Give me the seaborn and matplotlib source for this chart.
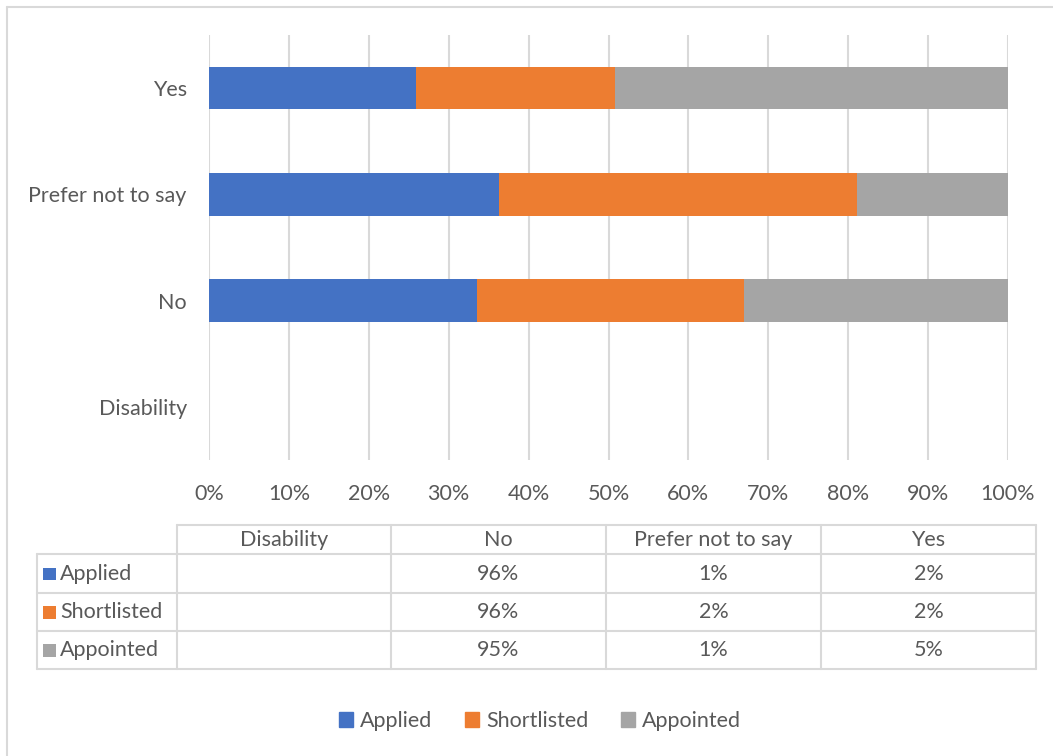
"""100% stacked bar: disability declaration vs. recruitment stage, with data table."""
import matplotlib.pyplot as plt
import numpy as np
import pandas as pd
import seaborn as sns
from matplotlib.lines import Line2D
from matplotlib.patches import Rectangle

# categories, top to bottom as in the chart
categories = ["Yes", "Prefer not to say", "No", "Disability"]
stages = ["Applied", "Shortlisted", "Appointed"]

applied = [2.4, 1.23, 96.2, np.nan]
shortlisted = [2.3, 1.52, 96.2, np.nan]
appointed = [4.55, 0.64, 94.8, np.nan]

# table column order (Excel lists categories bottom-up)
table_cols = ["Disability", "No", "Prefer not to say", "Yes"]

colors = {"Applied": "#4472C4", "Shortlisted": "#ED7D31", "Appointed": "#A5A5A5"}
TXT = "#595959"
GRID = "#D9D9D9"
FS = 15.5

df = pd.DataFrame({"category": categories, "Applied": applied,
                   "Shortlisted": shortlisted, "Appointed": appointed})
total = df[stages].sum(axis=1, min_count=1)
for s in stages:
    df[s + "_pct"] = df[s] / total * 100
df["c1"] = df["Applied_pct"]
df["c2"] = df["c1"] + df["Shortlisted_pct"]
df["c3"] = df["c2"] + df["Appointed_pct"]

sns.set_theme(style="white")
plt.rcParams["font.family"] = ["Lato", "DejaVu Sans"]

fig = plt.figure(figsize=(10.53, 7.56), dpi=100)
W, H = 1053, 756
ax = fig.add_axes([209 / W, 1 - 460 / H, 799 / W, 425 / H])

# stacked via overlapping cumulative bars
for col, stage in [("c3", "Appointed"), ("c2", "Shortlisted"), ("c1", "Applied")]:
    sns.barplot(data=df, x=col, y="category", order=categories, orient="h",
                color=colors[stage], width=0.4, linewidth=0, saturation=1,
                errorbar=None, ax=ax, label=stage)

ax.set_xlim(0, 100)
ax.set_ylim(3.5, -0.5)
ax.set_xticks(np.arange(0, 101, 10))
ax.set_xticklabels([f"{v}%" for v in range(0, 101, 10)])
ax.grid(axis="x", color=GRID, linewidth=1.5)
ax.set_axisbelow(True)
for sp in ax.spines.values():
    sp.set_visible(False)
ax.tick_params(axis="both", length=0, colors=TXT, labelsize=FS)
ax.tick_params(axis="x", pad=17)
ax.tick_params(axis="y", pad=16)
ax.set_xlabel("")
ax.set_ylabel("")
if ax.get_legend() is not None:
    ax.get_legend().remove()

# overlay in pixel coordinates for frame and data table
ov = fig.add_axes([0, 0, 1, 1], zorder=-1)
ov.set_xlim(0, W)
ov.set_ylim(H, 0)
ov.axis("off")
ov.add_line(Line2D([7, 7], [7, H], color=GRID, lw=1.5))
ov.add_line(Line2D([7, W], [7, 7], color=GRID, lw=1.5))

ov2 = fig.add_axes([0, 0, 1, 1])
ov2.set_xlim(0, W)
ov2.set_ylim(H, 0)
ov2.axis("off")

xs = [37, 177, 391, 606, 821, 1036]
ys = [525, 554, 593, 631, 669]
lw = 1.5
# header row (no corner cell)
ov2.add_line(Line2D([xs[1], xs[-1]], [ys[0], ys[0]], color=GRID, lw=lw))
for y in ys[1:]:
    ov2.add_line(Line2D([xs[0], xs[-1]], [y, y], color=GRID, lw=lw))
ov2.add_line(Line2D([xs[0], xs[0]], [ys[1], ys[-1]], color=GRID, lw=lw))
for x in xs[1:]:
    ov2.add_line(Line2D([x, x], [ys[0], ys[-1]], color=GRID, lw=lw))

for j, name in enumerate(table_cols):
    cx = (xs[j + 1] + xs[j + 2]) / 2
    ov2.text(cx, (ys[0] + ys[1]) / 2, name, ha="center", va="center",
             fontsize=FS, color=TXT)

lookup = df.set_index("category")
for i, stage in enumerate(stages):
    cy = (ys[i + 1] + ys[i + 2]) / 2
    ov2.add_patch(Rectangle((43, cy - 6), 12.5, 12.5, color=colors[stage], lw=0))
    ov2.text(60, cy, stage, ha="left", va="center", fontsize=FS, color=TXT)
    for j, name in enumerate(table_cols):
        v = lookup.loc[name, stage]
        if pd.isna(v):
            continue
        cx = (xs[j + 1] + xs[j + 2]) / 2
        ov2.text(cx, cy, f"{v:.0f}%", ha="center", va="center",
                 fontsize=FS, color=TXT)

handles = [Rectangle((0, 0), 1, 1, color=colors[s]) for s in stages]
fig.legend(handles, stages, loc="center", bbox_to_anchor=(540 / W, 1 - 721 / H),
           ncol=3, frameon=False, fontsize=FS, labelcolor=TXT,
           handlelength=0.65, handleheight=0.65, handletextpad=0.35,
           columnspacing=1.5)

fig.savefig("out.png", dpi=100, facecolor="white")
